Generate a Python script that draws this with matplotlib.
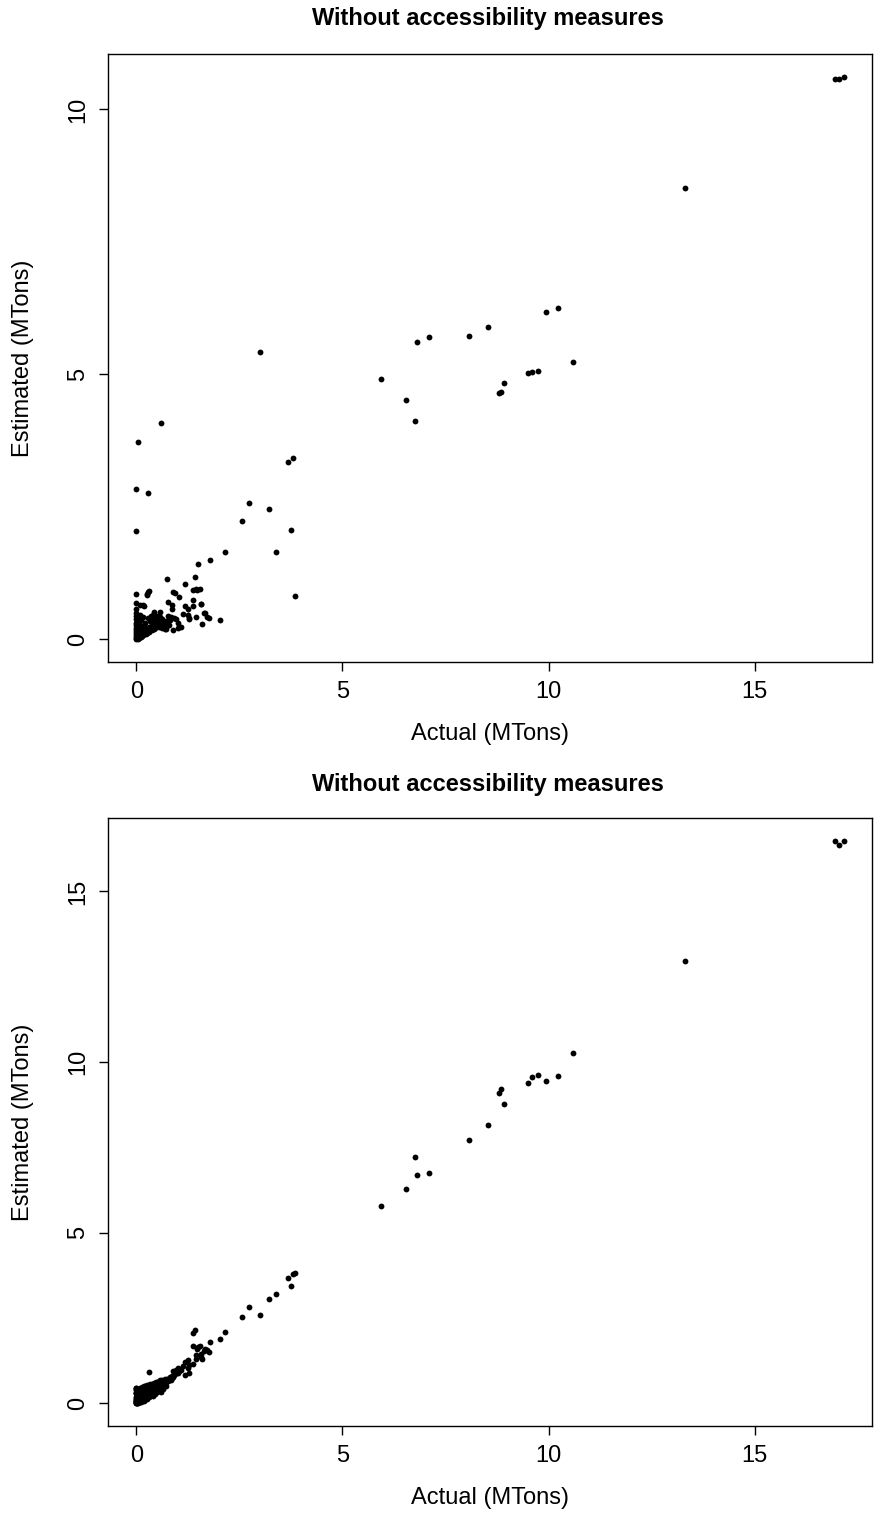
import matplotlib.pyplot as plt

plt.rcParams['font.family'] = ['Liberation Sans', 'DejaVu Sans']

titles = ["Without accessibility measures", "Without accessibility measures"]
x_label = "Actual (MTons)"
y_label = "Estimated (MTons)"
x_ticks = [0, 5, 10, 15]
y_ticks_top = [0, 5, 10]
y_ticks_bottom = [0, 5, 10, 15]

# actual tonnage (same observations in both panels)
actual = [
    17.16, 16.94, 17.04, 13.30, 10.60, 10.24, 9.93, 9.74, 9.60, 9.51,
    8.92, 8.85, 8.81, 8.54, 8.07, 7.10, 6.81, 6.76, 6.54, 5.93,
    3.84, 3.80, 3.75, 3.68, 3.38, 3.21, 2.99, 2.73, 2.56, 2.14,
    2.04, 1.80, 1.50, 0.61, 0.05, 0.00, 0.29, 0.00,
    1.42, 1.38, 1.48, 1.54, 1.17, 0.74, 1.38, 1.76, 1.71, 1.64,
    1.59, 1.56, 1.45, 1.37, 1.25, 1.26, 1.28, 1.18, 1.13, 1.09,
    1.02, 1.03, 0.97, 1.00, 0.95, 0.89, 0.90, 0.87, 0.86, 0.80,
    0.76, 0.72, 1.46, 1.58, 1.66, 1.29, 0.30, 0.27, 0.28, 0.26,
    0.00, 0.00, 0.10, 0.16, 0.00, 0.42, 0.58, 0.19,
    0.00, 0.00, 0.00, 0.00, 0.00, 0.00, 0.00, 0.00, 0.00, 0.00,
    0.00, 0.00, 0.01, 0.01, 0.01, 0.01, 0.02, 0.02, 0.02, 0.02,
    0.03, 0.03, 0.03, 0.03, 0.04, 0.04, 0.04, 0.05, 0.05, 0.05,
    0.06, 0.06, 0.06, 0.07, 0.07, 0.08, 0.08, 0.08, 0.09, 0.09,
    0.10, 0.10, 0.11, 0.11, 0.12, 0.12, 0.13, 0.13, 0.14, 0.15,
    0.15, 0.16, 0.17, 0.17, 0.18, 0.19, 0.20, 0.20, 0.21, 0.22,
    0.23, 0.24, 0.25, 0.26, 0.27, 0.28, 0.29, 0.30, 0.31, 0.32,
    0.33, 0.34, 0.35, 0.36, 0.37, 0.38, 0.39, 0.40, 0.41, 0.42,
    0.43, 0.44, 0.45, 0.46, 0.47, 0.48, 0.50, 0.52, 0.54, 0.55,
    0.57, 0.58, 0.60, 0.62, 0.63, 0.65, 0.67, 0.69, 0.71, 0.73,
    0.75, 0.78, 0.82, 0.85, 0.92,
]

# estimates, top panel
est_top = [
    10.62, 10.57, 10.57, 8.51, 5.24, 6.26, 6.18, 5.07, 5.04, 5.02,
    4.84, 4.67, 4.65, 5.89, 5.73, 5.70, 5.62, 4.13, 4.52, 4.92,
    0.82, 3.42, 2.06, 3.34, 1.65, 2.47, 5.43, 2.58, 2.23, 1.65,
    0.36, 1.49, 1.43, 4.08, 3.72, 2.83, 2.77, 2.04,
    1.17, 0.93, 0.94, 0.96, 1.04, 1.14, 0.74, 0.40, 0.42, 0.50,
    0.30, 0.66, 0.42, 0.64, 0.47, 0.57, 0.39, 0.64, 0.48, 0.24,
    0.22, 0.81, 0.38, 0.31, 0.88, 0.89, 0.17, 0.58, 0.65, 0.28,
    0.71, 0.20, 0.95, 0.66, 0.50, 0.40, 0.91, 0.85, 0.89, 0.84,
    0.85, 0.68, 0.65, 0.65, 0.58, 0.52, 0.52, 0.64,
    0.00, 0.03, 0.06, 0.10, 0.14, 0.18, 0.22, 0.27, 0.32, 0.38,
    0.44, 0.50, 0.02, 0.08, 0.15, 0.24, 0.05, 0.12, 0.20, 0.35,
    0.01, 0.09, 0.17, 0.28, 0.04, 0.11, 0.41, 0.02, 0.07, 0.19,
    0.05, 0.13, 0.30, 0.03, 0.10, 0.06, 0.16, 0.47, 0.04, 0.22,
    0.08, 0.13, 0.05, 0.36, 0.09, 0.18, 0.06, 0.26, 0.11, 0.08,
    0.20, 0.12, 0.09, 0.42, 0.14, 0.10, 0.17, 0.31, 0.12, 0.15,
    0.11, 0.22, 0.14, 0.18, 0.13, 0.40, 0.16, 0.24, 0.15, 0.20,
    0.34, 0.17, 0.45, 0.22, 0.28, 0.18, 0.36, 0.23, 0.47, 0.20,
    0.30, 0.26, 0.40, 0.21, 0.33, 0.25, 0.44, 0.28, 0.36, 0.23,
    0.42, 0.30, 0.26, 0.38, 0.22, 0.33, 0.28, 0.19, 0.35, 0.24,
    0.30, 0.45, 0.36, 0.42, 0.40,
]

# estimates, bottom panel
est_bottom = [
    16.49, 16.49, 16.35, 12.95, 10.27, 9.58, 9.46, 9.61, 9.56, 9.38,
    8.78, 9.20, 9.09, 8.16, 7.71, 6.75, 6.69, 7.23, 6.27, 5.79,
    3.82, 3.80, 3.44, 3.67, 3.21, 3.05, 2.59, 2.83, 2.53, 2.08,
    1.90, 1.79, 1.65, 0.35, 0.25, 0.30, 0.20, 0.45,
    2.16, 2.07, 1.60, 1.69, 1.22, 0.72, 1.69, 1.51, 1.58, 1.55,
    1.31, 1.37, 1.31, 1.16, 1.05, 1.28, 0.88, 0.82, 1.10, 0.98,
    1.04, 0.95, 0.99, 0.90, 0.85, 0.96, 0.78, 0.80, 0.74, 0.70,
    0.66, 0.62, 1.42, 1.45, 1.60, 1.12, 0.91, 0.40, 0.35, 0.30,
    0.40, 0.30, 0.30, 0.25, 0.45, 0.45, 0.55, 0.20,
    0.02, 0.05, 0.00, 0.10, 0.04, 0.15, 0.08, 0.20, 0.12, 0.30,
    0.06, 0.42, 0.03, 0.35, 0.01, 0.18, 0.06, 0.28, 0.02, 0.25,
    0.09, 0.40, 0.14, 0.33, 0.02, 0.30, 0.07, 0.11, 0.36, 0.28,
    0.03, 0.38, 0.10, 0.27, 0.13, 0.04, 0.32, 0.15, 0.44, 0.12,
    0.06, 0.35, 0.10, 0.42, 0.05, 0.30, 0.09, 0.48, 0.07, 0.38,
    0.16, 0.45, 0.15, 0.32, 0.08, 0.50, 0.18, 0.40, 0.12, 0.52,
    0.14, 0.45, 0.24, 0.55, 0.12, 0.38, 0.20, 0.52, 0.18, 0.46,
    0.21, 0.56, 0.33, 0.48, 0.25, 0.58, 0.36, 0.22, 0.50, 0.38,
    0.34, 0.60, 0.29, 0.52, 0.43, 0.62, 0.35, 0.45, 0.66, 0.48,
    0.40, 0.68, 0.46, 0.55, 0.70, 0.42, 0.58, 0.72, 0.50, 0.64,
    0.68, 0.73, 0.77, 0.70, 0.82,
]

W, H = 875, 1516


def draw_panel(ax, y, yticks, title, title_px):
    ax.plot(actual, y, 'o', ms=4.2, mew=0, color='black')
    ax.margins(0.04)  # R-style 4% padding

    ax.set_xticks(x_ticks, [str(t) for t in x_ticks])
    ax.set_yticks(yticks, [str(t) for t in yticks], rotation=90, va='center')
    ax.tick_params(direction='out', length=6.5, width=1.0, labelsize=17, color='black')
    ax.tick_params(axis='x', pad=7)
    ax.tick_params(axis='y', pad=7)

    for s in ax.spines.values():
        s.set_linewidth(1.0)
        s.set_color('black')

    ax.set_xlabel(x_label, fontsize=17, va='center')
    ax.set_ylabel(y_label, fontsize=17, va='center')
    ax.xaxis.set_label_coords(0.5, -72 / 608)
    ax.yaxis.set_label_coords(-85 / 764, 0.5)

    fig.text(488 / W, 1 - title_px / H, title, fontsize=17, fontweight='bold',
             ha='center', va='center')


fig = plt.figure(figsize=(W / 100, H / 100), dpi=100)
fig.patch.set_facecolor('white')

ax1 = fig.add_axes([108 / W, 1 - 662 / H, 764 / W, 608 / H])
ax2 = fig.add_axes([108 / W, 1 - 1426 / H, 764 / W, 608 / H])

draw_panel(ax1, est_top, y_ticks_top, titles[0], 18)
draw_panel(ax2, est_bottom, y_ticks_bottom, titles[1], 784)

fig.savefig('out.png', dpi=100, facecolor='white')
